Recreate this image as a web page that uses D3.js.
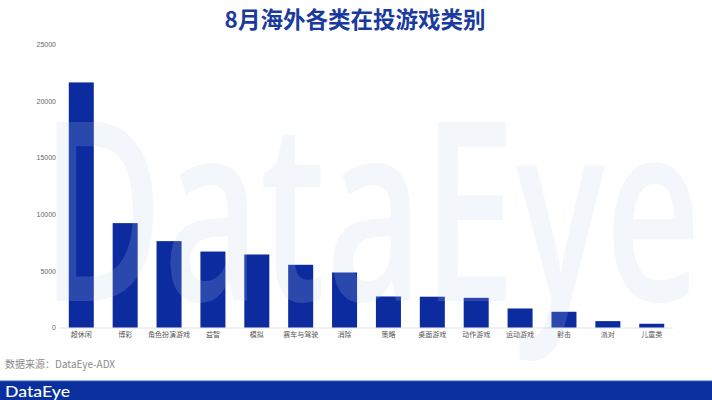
<!DOCTYPE html>
<html><head><meta charset="utf-8">
<script src="https://cdn.jsdelivr.net/npm/d3@7"></script>
<style>body{margin:0;background:#fff}svg{display:block}</style>
</head><body>
<svg id="c" width="712" height="400"></svg>
<script>
const categories = ["超休闲","博彩","角色扮演游戏","益智","模拟","赛车与驾驶","消除","策略","桌面游戏","动作游戏","运动游戏","射击","派对","儿童类"];
const values = [21650,9220,7630,6710,6450,5540,4860,2740,2720,2620,1680,1390,565,330];
const yTicks = [0,5000,10000,15000,20000,25000];
const title = "8月海外各类在投游戏类别";
const source = "数据来源：DataEye-ADX";

const svg = d3.select("#c");
const font = "'Noto Sans CJK SC','Noto Sans',sans-serif";
const blue = "#0c2b9e";

const x = d3.scaleBand().domain(categories).range([60, 673]).paddingInner(0.43).paddingOuter(0.2);
const y = d3.scaleLinear().domain([0, 25000]).range([327.5, 44.5]);

// watermark (behind text, over bars)
const wm = svg.append("g");

svg.append("text").attr("x", 355).attr("y", 28).attr("text-anchor", "middle")
  .attr("font-family", font).attr("font-weight", 700).attr("font-size", 22.5)
  .attr("fill", "#1a3a9e").text(title);

// y axis
const ya = svg.append("g").attr("transform", "translate(56,0)")
  .call(d3.axisLeft(y).tickValues(yTicks).tickSize(0).tickPadding(0).tickFormat(d3.format("d")));
ya.select(".domain").remove();
ya.selectAll("text").attr("font-family", "'Liberation Sans',sans-serif").attr("font-size", 7).attr("fill", "#666");

// baseline
svg.append("line").attr("x1", 60).attr("x2", 673).attr("y1", y(0) + 0.5).attr("y2", y(0) + 0.5)
  .attr("stroke", "#e3e3e3").attr("stroke-width", 1);

// bars
svg.append("g").selectAll("rect").data(values).join("rect")
  .attr("x", (d, i) => x(categories[i]))
  .attr("width", x.bandwidth())
  .attr("y", d => y(d))
  .attr("height", d => y(0) - y(d))
  .attr("fill", blue);

// watermark drawn over bars with low opacity
svg.append("text").attr("x", 41).attr("y", 301)
  .attr("font-family", "'Open Sans','Noto Sans',sans-serif").attr("font-size", 250).attr("font-weight", 600)
  .attr("textLength", 660).attr("lengthAdjust", "spacingAndGlyphs")
  .attr("fill", "rgb(190,210,240)").attr("fill-opacity", 0.18).text("DataEye");

// x axis labels
const xa = svg.append("g").attr("transform", `translate(0,${y(0)})`)
  .call(d3.axisBottom(x).tickSize(0).tickPadding(5));
xa.select(".domain").remove();
xa.selectAll("text").attr("font-family", font).attr("font-size", 7).attr("fill", "#555");

// source
svg.append("text").attr("x", 5).attr("y", 368).attr("font-family", font)
  .attr("font-size", 10).attr("fill", "#8a8a8a").text(source);

// footer band
svg.append("rect").attr("x", 0).attr("y", 381).attr("width", 712).attr("height", 19).attr("fill", "#0a2f9f");
svg.append("line").attr("x1", 0).attr("x2", 712).attr("y1", 381).attr("y2", 381).attr("stroke", "#3f5fc0").attr("stroke-width", 1);
svg.append("text").attr("x", 5).attr("y", 396.5).attr("font-family", "'Lato','Open Sans',sans-serif")
  .attr("font-size", 15).attr("font-weight", 500).attr("fill", "#fff")
  .attr("textLength", 65).attr("lengthAdjust", "spacingAndGlyphs").text("DataEye");
</script>
</body></html>
